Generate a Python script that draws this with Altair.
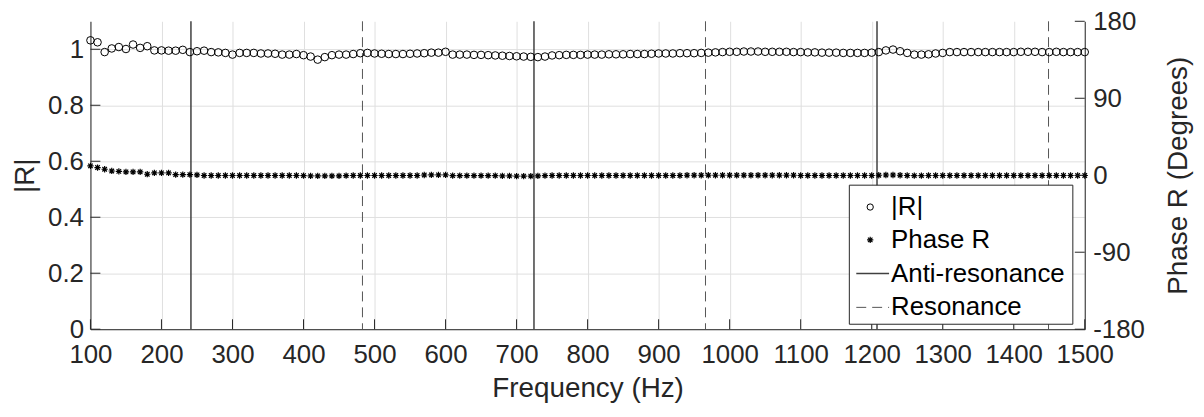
import altair as alt
import pandas as pd

# ---------------- data ----------------
freq = list(range(100, 1501, 10))

r_mag = [
    1.032, 1.025, 0.990, 1.003, 1.008, 1.001, 1.017, 1.005, 1.011, 0.996,
    0.996, 0.995, 0.995, 0.998, 0.990, 0.993, 0.995, 0.990, 0.989, 0.987,
    0.981, 0.987, 0.987, 0.987, 0.985, 0.985, 0.984, 0.981, 0.981, 0.983,
    0.979, 0.974, 0.963, 0.972, 0.979, 0.981, 0.981, 0.983, 0.986, 0.987,
    0.985, 0.984, 0.983, 0.983, 0.983, 0.984, 0.985, 0.986, 0.988, 0.988,
    0.991, 0.981, 0.981, 0.981, 0.980, 0.980, 0.979, 0.978, 0.977, 0.976,
    0.975, 0.974, 0.973, 0.972, 0.974, 0.978, 0.979, 0.980, 0.980, 0.980,
    0.981, 0.981, 0.981, 0.982, 0.982, 0.982, 0.983, 0.983, 0.983, 0.984,
    0.985, 0.985, 0.985, 0.986, 0.986, 0.986, 0.987, 0.988, 0.989, 0.990,
    0.991, 0.991, 0.992, 0.992, 0.992, 0.991, 0.991, 0.991, 0.991, 0.990,
    0.990, 0.989, 0.989, 0.988, 0.988, 0.988, 0.987, 0.987, 0.987, 0.987,
    0.988, 0.990, 0.996, 0.999, 0.993, 0.987, 0.981, 0.981, 0.982, 0.985,
    0.987, 0.990, 0.990, 0.990, 0.990, 0.990, 0.990, 0.990, 0.990, 0.990,
    0.990, 0.991, 0.991, 0.991, 0.990, 0.990, 0.991, 0.990, 0.990, 0.990,
    0.990,
]

phase = [
    11.0, 9.0, 7.0, 5.0, 4.5, 4.0, 4.0, 4.0, 1.2, 2.7,
    2.7, 2.7, 0.8, 0.8, 0.8, 0.5, -0.3, -0.3, -0.3, -0.3,
    -0.3, -0.3, -0.3, -0.3, -0.3, -0.3, -0.3, -0.3, -0.3, -0.3,
    -0.5, -0.8, -0.8, -0.8, -0.8, -0.8, -0.5, -0.3, -0.3, -0.3,
    -0.3, -0.3, -0.3, -0.3, -0.3, -0.3, -0.3, 0.3, 0.5, 0.5,
    0.5, -0.5, -0.5, -0.5, -0.5, -0.5, -0.5, -0.5, -0.8, -0.8,
    -1.0, -1.0, -1.0, -0.8, -0.5, -0.3, -0.3, -0.3, -0.3, -0.3,
    -0.3, -0.3, -0.3, -0.3, -0.3, -0.3, -0.3, -0.3, -0.3, -0.3,
    -0.3, -0.3, -0.3, -0.3, 0.0, 0.0, 0.0, 0.0, 0.0, 0.0,
    0.0, 0.0, 0.0, 0.0, 0.0, 0.0, 0.0, 0.0, 0.0, 0.0,
    -0.3, -0.3, -0.3, -0.3, -0.3, -0.3, -0.3, -0.3, -0.3, -0.3,
    -0.3, 0.0, 0.3, 0.3, 0.0, -0.3, -0.5, -0.5, -0.3, -0.3,
    -0.3, -0.3, -0.3, -0.3, -0.3, -0.3, -0.3, -0.3, -0.3, -0.3,
    -0.3, -0.3, -0.3, -0.3, -0.3, -0.3, -0.3, -0.3, -0.3, -0.3,
    -0.3,
]

x_ticks = list(range(100, 1501, 100))
r_ticks = [0, 0.2, 0.4, 0.6, 0.8, 1]
p_ticks = [-180, -90, 0, 90, 180]
anti_res = [241.5, 724.5, 1207.5]
res = [483, 966, 1449]
legend_labels = ["|R|", "Phase R", "Anti-resonance", "Resonance"]

# ---------------- styling ----------------
W, H = 1001, 310
FONT = "Liberation Sans"
AX = "#262626"
TICK = 10
ASTER = "M-1,0L1,0M0,-1L0,1M-0.72,-0.72L0.72,0.72M-0.72,0.72L0.72,-0.72"

df = pd.DataFrame({"f": freq, "r": r_mag, "p": phase})
xt = pd.DataFrame({"f": x_ticks})
rt = pd.DataFrame({"r": r_ticks})
pt = pd.DataFrame({"p": p_ticks})
ar = pd.DataFrame({"f": anti_res})
rs = pd.DataFrame({"f": res})
dummy = pd.DataFrame({"k": [0]})

xscale = alt.Scale(domain=[100, 1500], nice=False, zero=False)
rscale = alt.Scale(domain=[0, 1.1], nice=False, zero=False)
pscale = alt.Scale(domain=[-180, 180], nice=False, zero=False)

xaxis = alt.Axis(values=x_ticks, title="Frequency (Hz)", format="d", grid=True,
                 labelPadding=13, titlePadding=7, labelFlush=False, labelOverlap=False)
raxis = alt.Axis(values=r_ticks, title="|R|", format=".1~f", grid=True,
                 labelPadding=7, titlePadding=8, labelFlush=False, labelOverlap=False)
paxis = alt.Axis(values=p_ticks, title="Phase R (Degrees)", orient="right", grid=False,
                 labelExpr="datum.value + ''",
                 labelPadding=8, titlePadding=20, titleAngle=270, titleBaseline="top",
                 labelFlush=False, labelOverlap=False)

X = alt.X("f:Q", scale=xscale, axis=xaxis)

anti_lines = alt.Chart(ar).mark_rule(color="#404040", strokeWidth=1.5).encode(x=X)
res_lines = alt.Chart(rs).mark_rule(color="#555555", strokeWidth=1, strokeDash=[10, 6]).encode(x=X)

r_points = alt.Chart(df).mark_point(shape="circle", filled=False, color="black",
                                    size=58, strokeWidth=1, opacity=1).encode(
    x=X, y=alt.Y("r:Q", scale=rscale, axis=raxis))

left_ticks = alt.Chart(rt).mark_rule(color=AX, strokeWidth=1).encode(
    y=alt.Y("r:Q", scale=rscale, axis=raxis), x=alt.value(0), x2=alt.value(TICK))
bottom_ticks = alt.Chart(xt).mark_rule(color=AX, strokeWidth=1).encode(
    x=X, y=alt.value(H), y2=alt.value(H - TICK))

p_points = alt.Chart(df).mark_point(shape=ASTER, filled=False, color="black",
                                    size=40, strokeWidth=1.2, opacity=1).encode(
    x=X, y=alt.Y("p:Q", scale=pscale, axis=paxis))
right_ticks = alt.Chart(pt).mark_rule(color=AX, strokeWidth=1).encode(
    y=alt.Y("p:Q", scale=pscale, axis=paxis), x=alt.value(W - TICK), x2=alt.value(W))

left = alt.layer(anti_lines, res_lines, r_points, left_ticks, bottom_ticks)
right = alt.layer(p_points, right_ticks)

# ---------------- legend ----------------
LX0, LX1, LY0, LY1 = 764, 989, 165, 305
rows = [187, 220, 254, 288]
sym_x = 785
text_x = 806

leg = [
    alt.Chart(dummy).mark_rect(fill="white", stroke=AX, strokeWidth=1).encode(
        x=alt.value(LX0), x2=alt.value(LX1), y=alt.value(LY0), y2=alt.value(LY1)),
    alt.Chart(dummy).mark_point(shape="circle", filled=False, color="black", size=40,
                                strokeWidth=1, opacity=1).encode(
        x=alt.value(sym_x), y=alt.value(rows[0])),
    alt.Chart(dummy).mark_point(shape=ASTER, filled=False, color="black", size=40,
                                strokeWidth=1.2, opacity=1).encode(
        x=alt.value(sym_x), y=alt.value(rows[1])),
    alt.Chart(dummy).mark_rule(color="#404040", strokeWidth=1.5).encode(
        x=alt.value(771), x2=alt.value(804), y=alt.value(rows[2])),
    alt.Chart(dummy).mark_rule(color="#555555", strokeWidth=1, strokeDash=[10, 6]).encode(
        x=alt.value(771), x2=alt.value(804), y=alt.value(rows[3])),
]
for lbl, yy in zip(legend_labels, rows):
    leg.append(alt.Chart(dummy).mark_text(align="left", baseline="middle", font=FONT,
                                          fontSize=26, color="black").encode(
        x=alt.value(text_x), y=alt.value(yy), text=alt.value(lbl)))
legend = alt.layer(*leg)

chart = (
    alt.layer(left, right, legend)
    .resolve_scale(y="independent")
    .properties(width=W, height=H,
                autosize=alt.AutoSizeParams(type="none"),
                padding={"left": 83, "top": 12, "right": 112, "bottom": 87})
    .configure_view(stroke=None)
    .configure_axis(
        labelFont=FONT, labelFontSize=26, labelColor=AX,
        titleFont=FONT, titleFontSize=28, titleColor=AX, titleFontWeight="normal",
        domainColor=AX, domainWidth=1, ticks=False,
        gridColor="#dfdfdf", gridWidth=1,
    )
)

chart.save("out.html", embed_options={"renderer": "svg", "actions": False})
